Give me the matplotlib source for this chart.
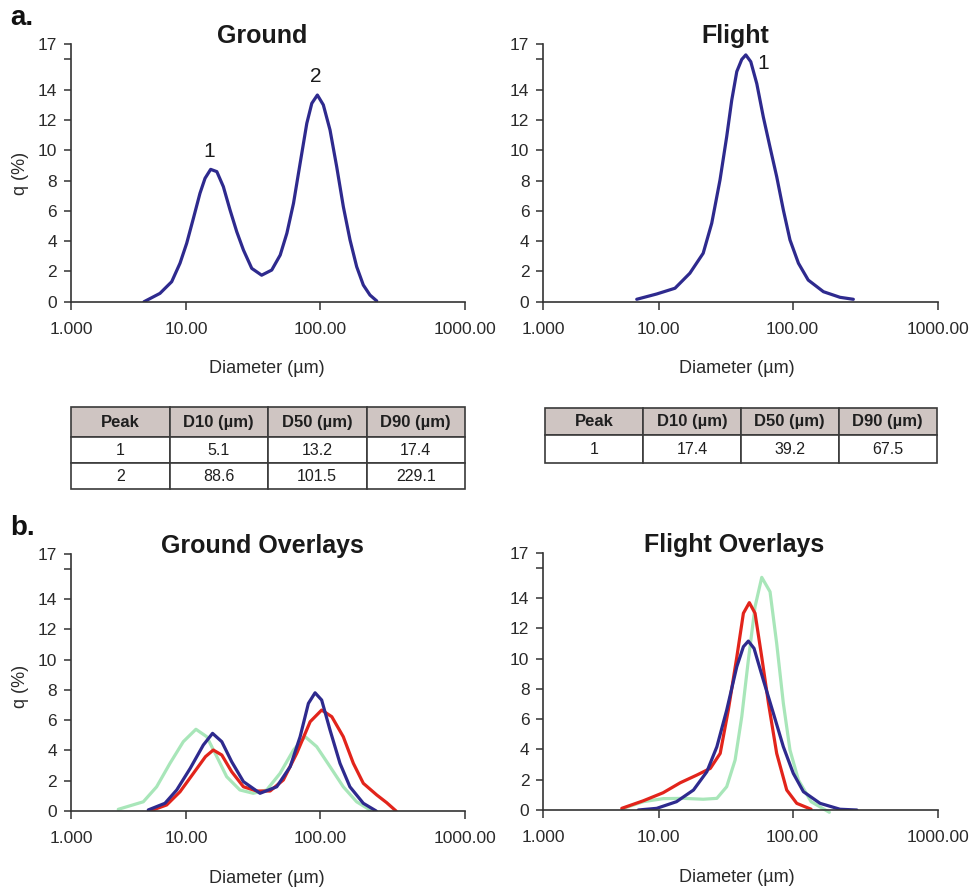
import numpy as np
import matplotlib
matplotlib.use('Agg')
import matplotlib.pyplot as plt
from matplotlib import font_manager as fm
from matplotlib.ticker import NullLocator

_names = {f.name for f in fm.fontManager.ttflist}
NARROW = 'Liberation Sans Narrow' if 'Liberation Sans Narrow' in _names else 'Liberation Sans'
REG = 'Liberation Sans'
plt.rcParams['font.family'] = [NARROW, 'DejaVu Sans']

# ---------------- data ----------------
ground_d = [4.3, 5.91, 7.47, 8.82, 10.07, 11.3, 12.65, 13.8, 15.2, 16.9, 18.9, 21.2, 23.8, 26.7,
            30.8, 36.5, 43.4, 50.2, 56.3, 63.1, 70.7, 79.3, 86.4, 95.1, 104.9, 116.7, 129.7,
            144.2, 160.3, 178.2, 198.0, 220.0, 245.0]
ground_q = [0.0, 0.55, 1.32, 2.54, 3.86, 5.51, 7.16, 8.15, 8.74, 8.59, 7.6, 6.06, 4.62, 3.41,
            2.2, 1.75, 2.09, 3.08, 4.52, 6.5, 9.14, 11.78, 13.1, 13.65, 13.0, 11.34, 8.92,
            6.27, 4.08, 2.31, 1.1, 0.44, 0.05]

flight_d = [6.46, 9.63, 13.25, 17.1, 21.5, 24.9, 28.7, 32.2, 35.1, 38.3, 41.7, 44.7, 48.7, 54.0,
            60.4, 67.8, 76.0, 85.2, 95.5, 109.6, 128.0, 163.0, 212.0, 262.0]
flight_q = [0.16, 0.51, 0.89, 1.88, 3.2, 5.18, 8.04, 10.9, 13.3, 15.2, 16.0, 16.3, 15.85, 14.4,
            12.2, 10.2, 8.26, 6.06, 4.08, 2.54, 1.43, 0.66, 0.29, 0.16]

g_green_d = [2.57, 4.24, 5.53, 7.22, 9.42, 11.8, 14.2, 16.9, 20.0, 25.1, 31.6, 39.8, 50.1, 63.1,
             77.1, 94.0, 116.7, 144.0, 178.0, 220.0]
g_green_q = [0.11, 0.61, 1.6, 3.15, 4.58, 5.4, 4.91, 3.59, 2.27, 1.39, 1.17, 1.39, 2.49, 4.03,
             4.91, 4.25, 2.93, 1.6, 0.61, 0.07]

g_blue_d = [4.68, 6.53, 8.26, 10.7, 13.4, 15.7, 18.4, 21.8, 26.7, 35.5, 47.3, 59.6, 70.7, 81.5,
            91.4, 102.2, 116.7, 136.7, 160.0, 198.0, 243.0]
g_blue_q = [0.07, 0.51, 1.39, 2.82, 4.36, 5.13, 4.58, 3.26, 1.94, 1.17, 1.6, 2.93, 4.91, 7.11,
            7.81, 7.33, 5.35, 3.15, 1.6, 0.51, 0.0]

g_red_d = [4.84, 6.76, 8.82, 11.3, 13.9, 15.9, 18.4, 21.8, 26.7, 33.6, 42.2, 53.0, 66.7, 84.0,
           102.2, 120.0, 144.0, 169.0, 198.0, 245.0, 287.0, 333.0]
g_red_q = [0.0, 0.4, 1.27, 2.49, 3.59, 4.03, 3.7, 2.6, 1.6, 1.32, 1.32, 2.05, 3.81, 5.9,
           6.67, 6.23, 4.91, 3.15, 1.83, 1.06, 0.55, 0.0]

f_green_d = [4.94, 7.37, 10.8, 15.3, 21.5, 27.2, 32.2, 37.2, 41.7, 46.7, 52.4, 58.8, 67.8, 76.0,
             85.2, 95.5, 109.6, 134.0, 179.0]
f_green_q = [0.11, 0.55, 0.75, 0.77, 0.71, 0.77, 1.54, 3.3, 6.16, 9.9, 13.43, 15.37, 14.42, 11.0,
             7.05, 3.96, 1.98, 0.55, -0.15]

f_red_d = [4.79, 7.37, 10.8, 14.5, 19.3, 24.3, 28.8, 33.1, 38.3, 42.9, 47.5, 52.4, 58.8, 66.0,
           76.0, 90.3, 106.7, 134.0]
f_red_q = [0.11, 0.61, 1.14, 1.8, 2.31, 2.75, 3.74, 6.6, 10.1, 13.0, 13.7, 13.0, 10.1, 7.05,
           3.74, 1.32, 0.44, 0.05]

f_blue_d = [6.67, 9.63, 13.6, 18.2, 22.9, 27.2, 32.2, 38.3, 42.9, 46.7, 51.5, 60.4, 71.8, 85.2,
            101.0, 118.6, 154.5, 212.0, 277.0]
f_blue_q = [0.0, 0.11, 0.55, 1.32, 2.53, 4.18, 6.6, 9.47, 10.79, 11.16, 10.68, 8.59, 6.39, 4.18,
            2.42, 1.21, 0.44, 0.05, 0.0]

x_ticks = [1, 10, 100, 1000]
x_tick_labels = ['1.000', '10.00', '100.00', '1000.00']
y_ticks = [0, 2, 4, 6, 8, 10, 12, 14, 16, 17]
y_tick_labels = ['0', '2', '4', '6', '8', '10', '12', '14', '', '17']

table_header = ['Peak', 'D10 (µm)', 'D50 (µm)', 'D90 (µm)']
ground_peaks = ['1', '2']
ground_d10 = ['5.1', '88.6']
ground_d50 = ['13.2', '101.5']
ground_d90 = ['17.4', '229.1']
flight_peaks = ['1']
flight_d10 = ['17.4']
flight_d50 = ['39.2']
flight_d90 = ['67.5']

BLUE = '#2e2a8e'
RED = '#e2241b'
GREEN = '#a8e6b9'
AXC = '#333333'

# axis of the instrument software: decades are not equally wide
AX_LOG = [-10, 0, 1, 2, 3, 13]
AX_POS = [-8.772, 0.0, 0.8772, 1.8968, 3.0, 14.032]


def fwd(x):
    x = np.asarray(x, dtype=float)
    return np.interp(np.log10(np.maximum(x, 1e-12)), AX_LOG, AX_POS)


def inv(u):
    u = np.asarray(u, dtype=float)
    return 10 ** np.interp(u, AX_POS, AX_LOG)


fig = plt.figure(figsize=(9.71, 8.91), dpi=100)
W, H = 971.0, 891.0


def make_ax(x0, ytop, ybot, w):
    return fig.add_axes([x0 / W, (H - ybot) / H, w / W, (ybot - ytop) / H])


def style(ax):
    ax.set_xscale('function', functions=(fwd, inv))
    ax.set_xlim(1, 1000)
    ax.set_ylim(0, 17)
    for s in ('top', 'right'):
        ax.spines[s].set_visible(False)
    for s in ('left', 'bottom'):
        ax.spines[s].set_color(AXC)
        ax.spines[s].set_linewidth(1.2)
    ax.set_xticks(x_ticks)
    ax.set_xticklabels(x_tick_labels)
    ax.xaxis.set_minor_locator(NullLocator())
    ax.set_yticks(y_ticks)
    ax.set_yticklabels(y_tick_labels)
    ax.tick_params(axis='x', direction='out', length=5.5, width=1.1, pad=9,
                   labelsize=12.5, color=AXC, labelcolor='#2a2a2a')
    ax.tick_params(axis='y', direction='out', length=5, width=1.1, pad=5,
                   labelsize=12.5, color=AXC, labelcolor='#2a2a2a')
    ax.patch.set_alpha(0)


def title(ax, txt, xf):
    ax.text(xf, 1.004, txt, transform=ax.transAxes, ha='center', va='baseline',
            fontsize=18, fontweight='bold', family=[REG, 'DejaVu Sans'], color='#1a1a1a')


def xlabel(ax, xf):
    ax.text(xf, -0.228, 'Diameter (µm)', transform=ax.transAxes, ha='center', va='top',
            fontsize=13, color='#2a2a2a')


def ylabel(ax, yf):
    ax.text(-0.127, yf, 'q (%)', transform=ax.transAxes, ha='center', va='center',
            rotation=90, fontsize=13, color='#2a2a2a')


LW = 2.3
KW = dict(lw=LW, solid_capstyle='round', solid_joinstyle='round')

# ---- a. Ground ----
ax1 = make_ax(71, 44.3, 301.7, 394.3)
style(ax1)
ax1.plot(ground_d, ground_q, color=BLUE, **KW)
ax1.text(14.9, 9.9, '1', ha='center', va='center', fontsize=15, family=[REG], color='#1a1a1a')
ax1.text(92.5, 14.9, '2', ha='center', va='center', fontsize=15, family=[REG], color='#1a1a1a')
title(ax1, 'Ground', 0.484)
xlabel(ax1, 0.496)
ylabel(ax1, 0.5)

# ---- a. Flight ----
ax2 = make_ax(543.3, 44.3, 301.7, 394.4)
style(ax2)
ax2.plot(flight_d, flight_q, color=BLUE, **KW)
ax2.text(60.4, 15.75, '1', ha='center', va='center', fontsize=15, family=[REG], color='#1a1a1a')
title(ax2, 'Flight', 0.487)
xlabel(ax2, 0.49)

# ---- b. Ground overlays ----
ax3 = make_ax(71, 553.7, 811, 394.3)
style(ax3)
ax3.plot(g_green_d, g_green_q, color=GREEN, **KW)
ax3.plot(g_red_d, g_red_q, color=RED, **KW)
ax3.plot(g_blue_d, g_blue_q, color=BLUE, **KW)
title(ax3, 'Ground Overlays', 0.485)
xlabel(ax3, 0.496)
ylabel(ax3, 0.483)

# ---- b. Flight overlays ----
ax4 = make_ax(543.3, 552.7, 810, 394.4)
style(ax4)
ax4.plot(f_green_d, f_green_q, color=GREEN, clip_on=False, **KW)
ax4.plot(f_red_d, f_red_q, color=RED, **KW)
ax4.plot(f_blue_d, f_blue_q, color=BLUE, **KW)
title(ax4, 'Flight Overlays', 0.485)
xlabel(ax4, 0.49)


# ---- tables ----
def make_table(x0, ytop, ybot, w, cols, head_h, row_h):
    tax = fig.add_axes([x0 / W, (H - ybot) / H, w / W, (ybot - ytop) / H])
    tax.axis('off')
    body = [list(r) for r in zip(*cols)]
    tbl = tax.table(cellText=body, colLabels=table_header, cellLoc='center',
                    bbox=[0, 0, 1, 1])
    tbl.auto_set_font_size(False)
    for (r, c), cell in tbl.get_celld().items():
        cell.set_edgecolor('#3a3a3a')
        cell.set_linewidth(1.2)
        cell.set_width(0.25)
        t = cell.get_text()
        t.set_color('#1f1f1f')
        t.set_family([NARROW, 'DejaVu Sans'])
        if r == 0:
            cell.set_facecolor('#cfc5c2')
            cell.set_height(head_h)
            t.set_fontweight('bold')
            t.set_fontsize(12)
        else:
            cell.set_facecolor('white')
            cell.set_height(row_h)
            t.set_fontsize(11.5)
    return tbl


make_table(71, 407.3, 489.3, 394,
           [ground_peaks, ground_d10, ground_d50, ground_d90], 30, 26)
make_table(545, 407.7, 463.3, 391.7,
           [flight_peaks, flight_d10, flight_d50, flight_d90], 27.3, 28.3)

# ---- panel letters ----
fig.text(10 / W, 1 - 25 / H, 'a.', fontsize=20, fontweight='bold', va='baseline',
         family=[REG], color='#111111')
fig.text(10 / W, 1 - 535 / H, 'b.', fontsize=20, fontweight='bold', va='baseline',
         family=[REG], color='#111111')

fig.savefig('out.png', dpi=100)
